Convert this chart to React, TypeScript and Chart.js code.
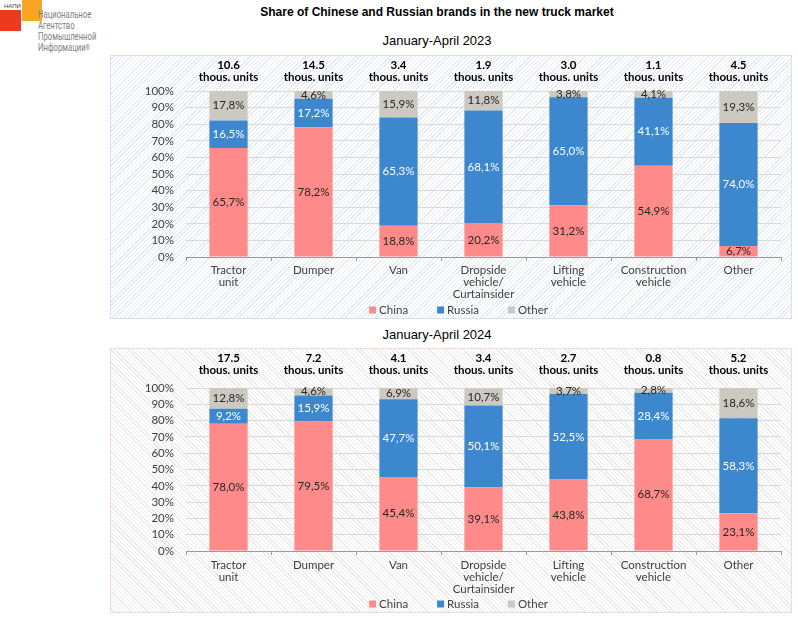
import { useEffect, useRef } from "react"
import { Chart, registerables } from "chart.js"

Chart.register(...registerables)

const categories = [
  ["Tractor", "unit"],
  ["Dumper"],
  ["Van"],
  ["Dropside", "vehicle/", "Curtainsider"],
  ["Lifting", "vehicle"],
  ["Construction", "vehicle"],
  ["Other"],
]
const seriesNames = ["China", "Russia", "Other"]
const seriesColors = ["#FF8A8A", "#3D87CE", "#CCC9C1"]

const china2023 = [65.7, 78.2, 18.8, 20.2, 31.2, 54.9, 6.7]
const russia2023 = [16.5, 17.2, 65.3, 68.1, 65.0, 41.1, 74.0]
const other2023 = [17.8, 4.6, 15.9, 11.8, 3.8, 4.1, 19.3]
const totals2023 = [10.6, 14.5, 3.4, 1.9, 3.0, 1.1, 4.5]

const china2024 = [78.0, 79.5, 45.4, 39.1, 43.8, 68.7, 23.1]
const russia2024 = [9.2, 15.9, 47.7, 50.1, 52.5, 28.4, 58.3]
const other2024 = [12.8, 4.6, 6.9, 10.7, 3.7, 2.8, 18.6]
const totals2024 = [17.5, 7.2, 4.1, 3.4, 2.7, 0.8, 5.2]

const FONT = "Lato, 'Open Sans', sans-serif"
const TEXT = "#404040"

// value labels inside each stacked segment
const barLabels = {
  id: "barLabels",
  afterDatasetsDraw(chart: Chart) {
    const ctx = chart.ctx
    ctx.save()
    ctx.font = `11.5px ${FONT}`
    ctx.textAlign = "center"
    ctx.textBaseline = "middle"
    chart.data.datasets.forEach((ds, di) => {
      const meta = chart.getDatasetMeta(di)
      meta.data.forEach((bar: any, i) => {
        const v = ds.data[i] as number
        const { x, y, base } = bar.getProps(["x", "y", "base"], true)
        ctx.fillStyle = di === 1 ? "#ffffff" : "#262626"
        ctx.fillText(v.toFixed(1).replace(".", ",") + "%", x, (y + base) / 2)
      })
    })
    ctx.restore()
  },
}

// Excel-like legend row with wide spacing
const legendRow = {
  id: "legendRow",
  afterDraw(chart: Chart, _args: any, opts: any) {
    const ctx = chart.ctx
    ctx.save()
    ctx.font = `11.5px ${FONT}`
    ctx.textBaseline = "middle"
    ctx.textAlign = "left"
    const items = chart.data.datasets.map((ds) => {
      const text = ds.label as string
      return { text, color: ds.backgroundColor as string, w: 10 + ctx.measureText(text).width }
    })
    const gap = 29
    const total = items.reduce((s, it) => s + it.w, 0) + gap * (items.length - 1)
    let x = opts.cx - total / 2
    items.forEach((it) => {
      ctx.fillStyle = it.color
      ctx.fillRect(x, opts.cy - 3.5, 7, 7)
      ctx.fillStyle = TEXT
      ctx.fillText(it.text, x + 10, opts.cy)
      x += it.w + gap
    })
    ctx.restore()
  },
}

type PanelProps = {
  china: number[]
  russia: number[]
  other: number[]
  totals: number[]
  width: number
  height: number
  topH: number
  topPad: number
  bottomPad: number
}

function StackedPanel({ china, russia, other, totals, width, height, topH, topPad, bottomPad }: PanelProps) {
  const chartRef = useRef<HTMLCanvasElement>(null)

  useEffect(() => {
    if (!chartRef.current) return
    const headers = totals.map((t) => [t.toFixed(1), "thous. units"])
    const series = [china, russia, other]

    const chart = new Chart(chartRef.current, {
      type: "bar",
      data: {
        labels: categories,
        datasets: series.map((data, i) => ({
          label: seriesNames[i],
          data,
          backgroundColor: seriesColors[i],
          borderWidth: 0,
          barPercentage: 0.45,
          categoryPercentage: 1,
        })),
      },
      options: {
        responsive: false,
        animation: false,
        layout: { padding: { left: 0, right: 11, top: 0, bottom: 0 } },
        plugins: {
          legend: { display: false },
          tooltip: { enabled: false },
          legendRow: { cx: 348.5, cy: height - 9 },
        } as any,
        scales: {
          x: {
            stacked: true,
            offset: true,
            grid: {
              drawOnChartArea: false,
              drawTicks: true,
              tickLength: 4,
              offset: true,
              color: "#9a9a9a",
            },
            border: { display: true, color: "#9a9a9a" },
            ticks: {
              color: TEXT,
              font: { family: FONT, size: 11.5, lineHeight: 1.05 },
              padding: bottomPad,
              maxRotation: 0,
              autoSkip: false,
            },
            afterFit: (s: any) => {
              s.height = 62
            },
          },
          xTop: {
            type: "category",
            position: "top",
            labels: headers as any,
            offset: true,
            grid: { display: false, drawTicks: false },
            border: { display: false },
            ticks: {
              color: "#000000",
              font: { family: FONT, size: 11.5, weight: "bold", lineHeight: 1.05 },
              padding: topPad,
              maxRotation: 0,
              autoSkip: false,
            },
            afterFit: (s: any) => {
              s.height = topH
            },
          },
          y: {
            stacked: true,
            min: 0,
            max: 100,
            grid: { color: "#D9D9D9", drawTicks: false },
            border: { display: false },
            ticks: {
              stepSize: 10,
              autoSkip: false,
              color: TEXT,
              padding: 12,
              font: { family: FONT, size: 11.5, lineHeight: 1 },
              callback: (v) => `${v}%`,
            },
            afterFit: (s: any) => {
              s.width = 76
            },
          },
        } as any,
      },
      plugins: [barLabels, legendRow],
    })

    return () => chart.destroy()
  }, [china, russia, other, totals, height, topH, topPad, bottomPad])

  return <canvas ref={chartRef} width={width} height={height} style={{ display: "block" }} />
}

const subtitleStyle: React.CSSProperties = {
  position: "absolute",
  left: 237,
  width: 400,
  textAlign: "center",
  font: "13px 'Liberation Sans', Arial, sans-serif",
  lineHeight: "16px",
  color: "#000",
}

export default function App() {
  return (
    <div style={{ position: "absolute", left: 0, top: 0, width: 798, height: 618, background: "#fff", overflow: "hidden" }}>
      {/* logo */}
      <div style={{ position: "absolute", left: 22, top: 0, width: 20, height: 21, background: "#F6A623" }} />
      <div style={{ position: "absolute", left: 0, top: 10, width: 21, height: 21, background: "#EC3A1F" }} />
      <div style={{ position: "absolute", left: 4, top: 3, font: "6px 'Liberation Sans', sans-serif", color: "#444" }}>НАПИ</div>
      <div
        style={{
          position: "absolute",
          left: 38,
          top: 9,
          font: "11px Roboto, sans-serif",
          lineHeight: "11px",
          color: "#7F7F7F",
          transform: "scaleX(0.7)",
          transformOrigin: "left top",
          whiteSpace: "nowrap",
        }}
      >
        <div>Национальное</div>
        <div>Агентство</div>
        <div>Промышленной</div>
        <div>
          Информации<span style={{ fontSize: 8, verticalAlign: "top" }}>®</span>
        </div>
      </div>

      <div style={{ ...subtitleStyle, top: 4, font: "bold 12px 'Liberation Sans', Arial, sans-serif" }}>
        Share of Chinese and Russian brands in the new truck market
      </div>
      <div style={{ ...subtitleStyle, top: 33 }}>January-April 2023</div>

      <div
        style={{
          position: "absolute",
          left: 110,
          top: 55,
          width: 680,
          height: 262,
          border: "1px solid #D5E1EF",
          background: "repeating-linear-gradient(135deg, #ffffff 0 2px, #E4EAF2 2px 3px)",
        }}
      />
      <div style={{ position: "absolute", left: 110, top: 55 }}>
        <StackedPanel
          china={china2023}
          russia={russia2023}
          other={other2023}
          totals={totals2023}
          width={682}
          height={264}
          topH={36}
          topPad={8}
          bottomPad={3}
        />
      </div>

      <div style={{ ...subtitleStyle, top: 327 }}>January-April 2024</div>

      <div
        style={{
          position: "absolute",
          left: 110,
          top: 348,
          width: 680,
          height: 263,
          border: "1px solid #F0D9D9",
          background: "repeating-linear-gradient(45deg, #ffffff 0 2px, #ECE9E9 2px 3px)",
        }}
      />
      <div style={{ position: "absolute", left: 110, top: 348 }}>
        <StackedPanel
          china={china2024}
          russia={russia2024}
          other={other2024}
          totals={totals2024}
          width={682}
          height={265}
          topH={40}
          topPad={12}
          bottomPad={4}
        />
      </div>
    </div>
  )
}
